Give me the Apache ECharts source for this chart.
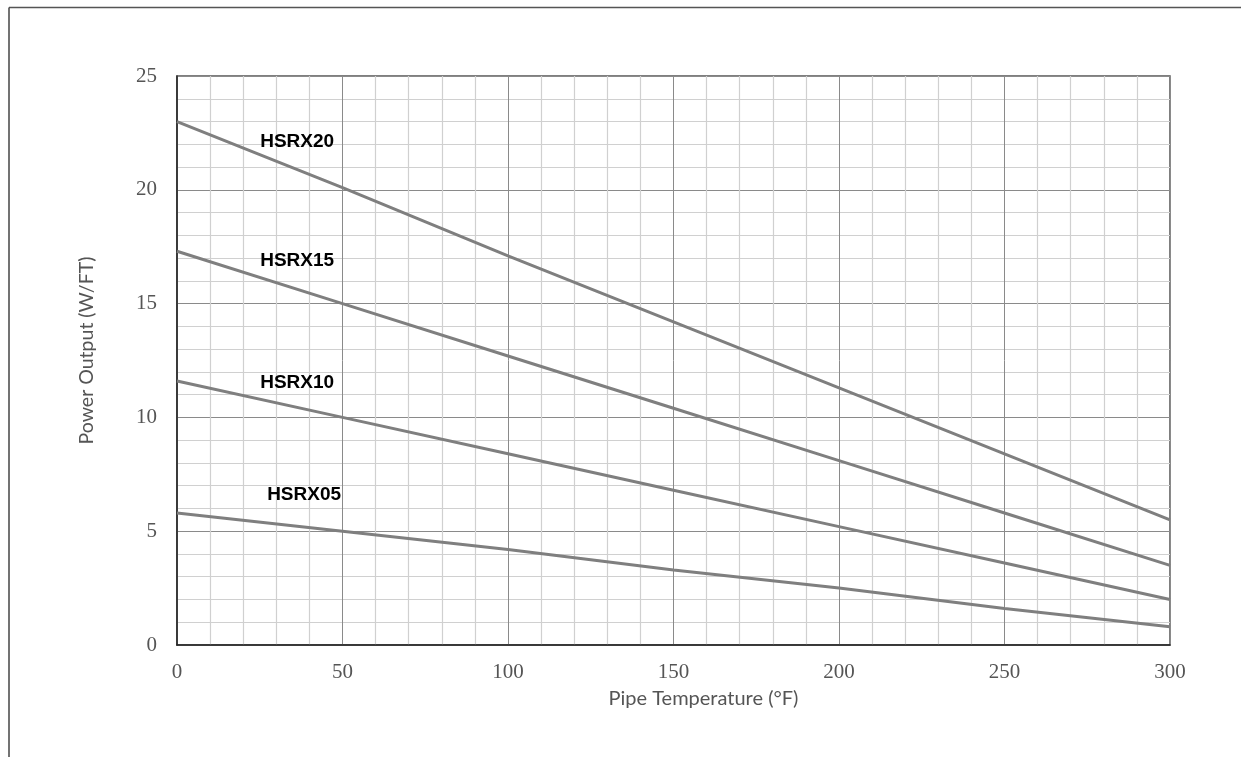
<!DOCTYPE html>
<html>
<head>
<meta charset="utf-8">
<script src="https://cdn.jsdelivr.net/npm/echarts@6/dist/echarts.min.js"></script>
<style>
html,body{margin:0;padding:0;background:#fff;}
#chart{width:1241px;height:757px;}
</style>
</head>
<body>
<div id="chart"></div>
<script>
const temps = [0, 50, 100, 150, 200, 250, 300];
const hsrx20 = [23.0, 20.1, 17.1, 14.2, 11.3, 8.4, 5.5];
const hsrx15 = [17.3, 15.0, 12.7, 10.4, 8.1, 5.8, 3.5];
const hsrx10 = [11.6, 10.0, 8.4, 6.8, 5.2, 3.6, 2.0];
const hsrx05 = [5.8, 5.0, 4.2, 3.3, 2.5, 1.6, 0.8];
const seriesNames = ['HSRX20', 'HSRX15', 'HSRX10', 'HSRX05'];
const labelPos = [[36.3, 22.1], [36.3, 16.9], [36.3, 11.5], [38.4, 6.6]];
const xTicks = [0, 50, 100, 150, 200, 250, 300];
const yTicks = [0, 5, 10, 15, 20, 25];

const allData = [hsrx20, hsrx15, hsrx10, hsrx05];
const chart = echarts.init(document.getElementById('chart'));

const series = allData.map((vals, i) => ({
  type: 'line',
  name: seriesNames[i],
  data: temps.map((t, j) => [t, vals[j]]),
  showSymbol: false,
  symbol: 'none',
  lineStyle: { color: '#7f7f7f', width: 3 },
  silent: true,
  z: 5,
  markPoint: {
    symbol: 'circle',
    symbolSize: 0,
    data: [{ coord: labelPos[i], value: seriesNames[i] }],
    label: {
      show: true,
      position: 'inside',
      formatter: seriesNames[i],
      fontFamily: 'Liberation Sans, Arial, sans-serif',
      fontWeight: 'bold',
      fontSize: 19,
      color: '#000'
    }
  }
}));

chart.setOption({
  animation: false,
  backgroundColor: '#fff',
  graphic: [
    { type: 'line', shape: { x1: 9, y1: 7.5, x2: 1241, y2: 7.5 }, style: { stroke: '#555', lineWidth: 1.5 } },
    { type: 'line', shape: { x1: 9, y1: 7.5, x2: 9, y2: 757 }, style: { stroke: '#444', lineWidth: 1.5 } }
  ],
  grid: {
    left: 177, right: 71, top: 76, bottom: 112,
    show: true, borderColor: '#555', borderWidth: 1.5, backgroundColor: 'transparent'
  },
  xAxis: {
    type: 'value',
    min: xTicks[0], max: xTicks[xTicks.length - 1], interval: 50,
    name: 'Pipe Temperature (°F)',
    nameLocation: 'middle',
    nameGap: 44,
    nameTextStyle: { fontFamily: 'Lato, sans-serif', fontSize: 20, color: '#555', padding: [0, 0, 0, 60] },
    axisLine: { show: true, lineStyle: { color: '#222', width: 1.5 } },
    axisTick: { show: false },
    axisLabel: { margin: 17, fontFamily: 'Liberation Serif, serif', fontSize: 21, color: '#555' },
    splitLine: { show: true, lineStyle: { color: '#8a8a8a', width: 1 } },
    minorTick: { show: false, splitNumber: 5 },
    minorSplitLine: { show: true, lineStyle: { color: '#d0d0d0', width: 1.2 } }
  },
  yAxis: {
    type: 'value',
    min: yTicks[0], max: yTicks[yTicks.length - 1], interval: 5,
    name: 'Power Output (W/FT)',
    nameLocation: 'middle',
    nameGap: 80,
    nameTextStyle: { fontFamily: 'Lato, sans-serif', fontSize: 19.5, color: '#555', padding: [0, 0, 0, 20] },
    axisLine: { show: true, lineStyle: { color: '#222', width: 1.5 } },
    axisTick: { show: false },
    axisLabel: { margin: 20, fontFamily: 'Liberation Serif, serif', fontSize: 21, color: '#555' },
    splitLine: { show: true, lineStyle: { color: '#8a8a8a', width: 1 } },
    minorTick: { show: false, splitNumber: 5 },
    minorSplitLine: { show: true, lineStyle: { color: '#d0d0d0', width: 1.2 } }
  },
  series: series
});
</script>
</body>
</html>
